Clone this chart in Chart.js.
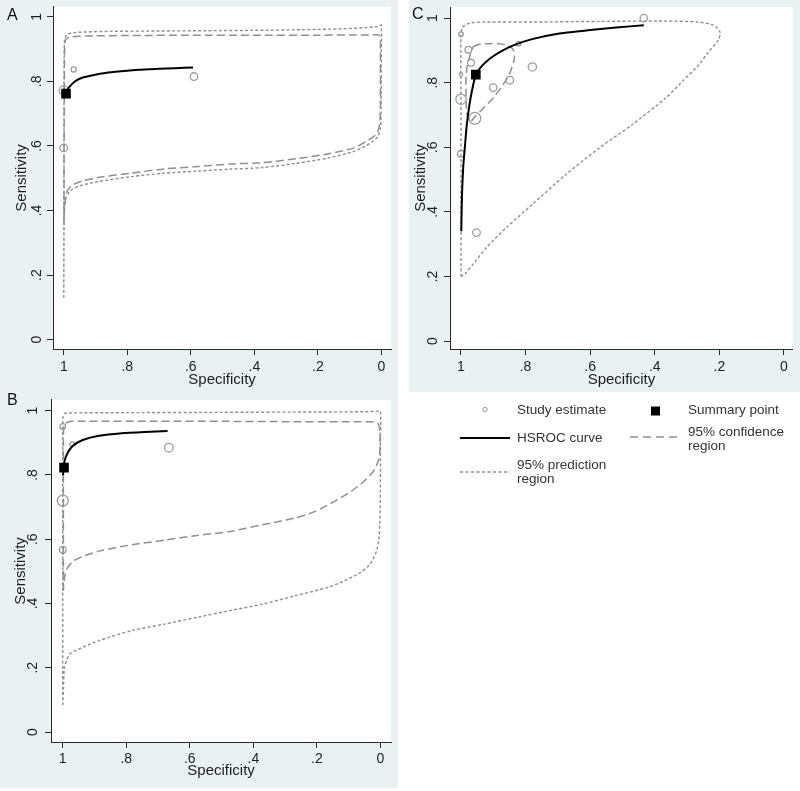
<!DOCTYPE html>
<html><head><meta charset="utf-8">
<script src="https://cdn.jsdelivr.net/npm/chart.js@4.4.1/dist/chart.umd.min.js"></script>
<style>
html,body{margin:0;padding:0;background:#fff;}
body{width:800px;height:791px;position:relative;overflow:hidden;font-family:"Liberation Sans",Arial,sans-serif;color:#222;}
canvas{position:absolute;}
.lbl{position:absolute;font-size:16px;line-height:16px;color:#111;z-index:3;}
.leg{position:absolute;font-size:13.5px;line-height:14px;color:#333;white-space:nowrap;}
svg{position:absolute;left:0;top:0;}
</style></head><body>
<canvas id="cA" width="398" height="393" style="left:0;top:0"></canvas>
<canvas id="cB" width="398" height="395" style="left:0;top:393px"></canvas>
<canvas id="cC" width="391" height="392" style="left:409px;top:0"></canvas>
<div class="lbl" style="left:7px;top:7px">A</div>
<div class="lbl" style="left:7px;top:392px">B</div>
<div class="lbl" style="left:412px;top:6px">C</div>

<svg width="800" height="791">
  <circle cx="485" cy="409.5" r="2.2" fill="none" stroke="#999" stroke-width="1"/>
  <rect x="651" y="406.5" width="9" height="9" fill="#000"/>
  <line x1="460" y1="438" x2="510" y2="438" stroke="#000" stroke-width="2"/>
  <line x1="630" y1="437" x2="679" y2="437" stroke="#8f8f8f" stroke-width="1.5" stroke-dasharray="8,5"/>
  <line x1="460" y1="472" x2="510" y2="472" stroke="#8f8f8f" stroke-width="1.4" stroke-dasharray="3,2.5"/>
</svg>
<div class="leg" style="left:517px;top:403px">Study estimate</div>
<div class="leg" style="left:688px;top:403px">Summary point</div>
<div class="leg" style="left:517px;top:431px">HSROC curve</div>
<div class="leg" style="left:688px;top:425px">95% confidence<br>region</div>
<div class="leg" style="left:517px;top:458px">95% prediction<br>region</div>

<script>
// ---------- shared axis data ----------
const tickValues = [0, 0.2, 0.4, 0.6, 0.8, 1];
const tickLabels = ['0', '.2', '.4', '.6', '.8', '1'];
const axisTitleX = 'Specificity';
const axisTitleY = 'Sensitivity';

// ---------- Panel A ----------
const aStudySpec = [1.0, 0.969, 0.59, 1.0];
const aStudySens = [0.772, 0.837, 0.815, 0.594];
const aStudyWeight = [8, 2.4, 5.3, 5.3];
const aSummarySpec = [0.993];
const aSummarySens = [0.762];
const aCurveSpec = [0.996, 0.99, 0.976, 0.96, 0.94, 0.905, 0.868, 0.82, 0.765, 0.70, 0.65, 0.593];
const aCurveSens = [0.748, 0.772, 0.790, 0.803, 0.812, 0.820, 0.826, 0.831, 0.836, 0.839, 0.841, 0.843];
const aConfSpec = [0.9995, 0.999, 0.998, 0.997, 0.995, 0.99, 0.975, 0.95, 0.90, 0.80, 0.60, 0.40, 0.20, 0.08, 0.03, 0.01, 0.004, 0.003, 0.003, 0.004, 0.008, 0.015, 0.03, 0.046, 0.086, 0.17, 0.27, 0.375, 0.478, 0.58, 0.682, 0.787, 0.889, 0.94, 0.975, 0.991, 0.997, 0.999, 0.9995];
const aConfSens = [0.36, 0.60, 0.85, 0.915, 0.928, 0.934, 0.938, 0.940, 0.941, 0.942, 0.943, 0.943, 0.943, 0.944, 0.944, 0.944, 0.94, 0.90, 0.75, 0.68, 0.655, 0.637, 0.625, 0.615, 0.594, 0.575, 0.56, 0.548, 0.544, 0.536, 0.529, 0.516, 0.503, 0.492, 0.477, 0.457, 0.41, 0.38, 0.36];
const aPredSpec = [1.0, 0.9995, 0.999, 0.998, 0.995, 0.99, 0.97, 0.93, 0.85, 0.70, 0.55, 0.40, 0.25, 0.12, 0.06, 0.02, 0.005, 0.0, 0.0, 0.001, 0.003, 0.012, 0.03, 0.05, 0.09, 0.17, 0.27, 0.375, 0.48, 0.58, 0.69, 0.787, 0.889, 0.951, 0.981, 0.996, 0.999, 1.0];
const aPredSens = [0.13, 0.5, 0.85, 0.925, 0.938, 0.945, 0.951, 0.953, 0.955, 0.956, 0.957, 0.958, 0.96, 0.963, 0.966, 0.969, 0.972, 0.975, 0.9, 0.72, 0.655, 0.628, 0.612, 0.6, 0.582, 0.562, 0.546, 0.533, 0.528, 0.522, 0.515, 0.505, 0.49, 0.476, 0.46, 0.43, 0.36, 0.13];

// ---------- Panel B ----------
const bStudySpec = [1.0, 0.97, 0.666, 1.0, 1.0];
const bStudySens = [0.951, 0.896, 0.885, 0.72, 0.567];
const bStudyWeight = [2.8, 2, 6.8, 11, 4.3];
const bSummarySpec = [0.996];
const bSummarySens = [0.823];
const bCurveSpec = [0.999, 0.997, 0.994, 0.984, 0.968, 0.937, 0.886, 0.814, 0.742, 0.67];
const bCurveSens = [0.80, 0.824, 0.845, 0.870, 0.891, 0.909, 0.922, 0.930, 0.934, 0.937];
const bConfSpec = [0.998, 0.998, 0.998, 0.997, 0.993, 0.985, 0.97, 0.90, 0.70, 0.50, 0.30, 0.12, 0.06, 0.043, 0.02, 0.01, 0.004, 0.002, 0.001, 0.002, 0.006, 0.012, 0.023, 0.053, 0.094, 0.146, 0.207, 0.269, 0.372, 0.474, 0.577, 0.68, 0.782, 0.885, 0.936, 0.967, 0.988, 0.996, 0.998];
const bConfSens = [0.44, 0.70, 0.90, 0.945, 0.958, 0.964, 0.967, 0.967, 0.967, 0.967, 0.966, 0.966, 0.966, 0.966, 0.965, 0.962, 0.953, 0.935, 0.90, 0.87, 0.847, 0.83, 0.81, 0.779, 0.748, 0.717, 0.686, 0.666, 0.645, 0.624, 0.612, 0.597, 0.583, 0.563, 0.547, 0.532, 0.506, 0.47, 0.44];
const bPredSpec = [1.0, 1.0, 1.0, 0.999, 0.995, 0.98, 0.8, 0.5, 0.2, 0.05, 0.01, 0.0, 0.0, 0.0, 0.001, 0.002, 0.005, 0.012, 0.033, 0.064, 0.115, 0.166, 0.269, 0.372, 0.474, 0.577, 0.68, 0.782, 0.885, 0.936, 0.977, 0.988, 0.995, 0.998, 1.0];
const bPredSens = [0.084, 0.5, 0.9, 0.98, 0.991, 0.993, 0.994, 0.995, 0.996, 0.997, 0.998, 0.999, 0.9, 0.75, 0.69, 0.645, 0.60, 0.563, 0.522, 0.496, 0.47, 0.45, 0.424, 0.398, 0.378, 0.357, 0.336, 0.316, 0.285, 0.264, 0.244, 0.222, 0.20, 0.131, 0.084];

// ---------- Panel C ----------
const cStudySpec = [0.434, 1.0, 0.977, 0.822, 0.969, 1.0, 0.779, 0.849, 0.90, 1.0, 0.957, 1.0, 0.952];
const cStudySens = [1.0, 0.95, 0.902, 0.921, 0.862, 0.826, 0.849, 0.808, 0.785, 0.749, 0.69, 0.58, 0.336];
const cStudyWeight = [5, 2, 4.3, 2, 4.3, 1.1, 6.3, 5.3, 5.3, 9.8, 12.7, 4.3, 5.3];
const cSummarySpec = [0.954];
const cSummarySens = [0.825];
const cCurveSpec = [0.999, 0.997, 0.993, 0.988, 0.982, 0.974, 0.966, 0.954, 0.935, 0.91, 0.88, 0.84, 0.78, 0.70, 0.60, 0.52, 0.434];
const cCurveSens = [0.34, 0.45, 0.54, 0.60, 0.67, 0.73, 0.775, 0.825, 0.852, 0.875, 0.895, 0.915, 0.935, 0.952, 0.963, 0.971, 0.978];
const cConfSpec = [0.962, 0.94, 0.911, 0.88, 0.859, 0.84, 0.834, 0.837, 0.849, 0.87, 0.901, 0.931, 0.957, 0.972, 0.979, 0.983, 0.985, 0.984, 0.981, 0.972, 0.962];
const cConfSens = [0.912, 0.92, 0.921, 0.921, 0.916, 0.905, 0.885, 0.865, 0.829, 0.793, 0.752, 0.721, 0.695, 0.678, 0.69, 0.72, 0.793, 0.82, 0.85, 0.885, 0.912];
const cPredSpec = [1.0, 1.0, 1.0, 1.0, 0.995, 0.972, 0.921, 0.778, 0.572, 0.367, 0.265, 0.218, 0.198, 0.203, 0.234, 0.265, 0.316, 0.367, 0.47, 0.572, 0.675, 0.778, 0.859, 0.921, 0.962, 0.988, 1.0];
const cPredSens = [0.20, 0.434, 0.741, 0.947, 0.972, 0.985, 0.988, 0.988, 0.99, 0.991, 0.988, 0.978, 0.957, 0.932, 0.895, 0.854, 0.803, 0.752, 0.67, 0.598, 0.516, 0.424, 0.352, 0.29, 0.239, 0.208, 0.20];

// ---------- rendering ----------
const PANEL_BG = 'rgb(233,241,243)';
const AXIS = '#2a2a2a';
const TXT = '#1e1e1e';
const REGION = '#8f8f8f';
const STUDY = '#9c9c9c';
Chart.defaults.font.family = '"Liberation Sans", Arial, sans-serif';

function pts(xs, ys) { return xs.map((x, i) => ({ x: x, y: ys[i] })); }
function radii(ws) { return ws.map(w => 1.65 * Math.sqrt(w)); }

const bgPlugin = {
  id: 'panelBg',
  beforeDraw(chart) {
    const c = chart.ctx, a = chart.chartArea;
    c.save();
    c.fillStyle = PANEL_BG;
    c.fillRect(0, 0, chart.width, chart.height);
    c.fillStyle = '#fff';
    c.fillRect(a.left, a.top, a.right - a.left, a.bottom - a.top);
    c.restore();
  }
};

function makePanel(id, g, d) {
  new Chart(document.getElementById(id), {
    type: 'scatter',
    plugins: [bgPlugin],
    data: {
      datasets: [
        { data: pts(d.sumSpec, d.sumSens), pointStyle: 'rect', pointRadius: 6.8, backgroundColor: '#000', borderColor: '#000', borderWidth: 0 },
        { data: pts(d.curveSpec, d.curveSens), showLine: true, pointRadius: 0, borderColor: '#000', borderWidth: 2, tension: 0.2 },
        { data: pts(d.studySpec, d.studySens), pointStyle: 'circle', pointRadius: radii(d.studyWeight), backgroundColor: 'rgba(0,0,0,0)', borderColor: STUDY, borderWidth: 1.3 },
        { data: pts(d.confSpec, d.confSens), showLine: true, pointRadius: 0, borderColor: REGION, borderWidth: 1.5, borderDash: [8, 4], tension: 0.25 },
        { data: pts(d.predSpec, d.predSens), showLine: true, pointRadius: 0, borderColor: REGION, borderWidth: 1.4, borderDash: [3, 2.2], tension: 0.25 }
      ]
    },
    options: {
      responsive: false, animation: false, events: [],
      layout: { padding: { left: 0, top: g.top, right: g.W - g.right, bottom: 0 } },
      plugins: { legend: { display: false }, tooltip: { enabled: false } },
      scales: {
        x: {
          type: 'linear', reverse: true, min: g.xMin, max: g.xMax,
          afterBuildTicks: s => { s.ticks = tickValues.map(v => ({ value: v })); },
          afterFit: s => { s.height = g.H - g.bottom; s.paddingLeft = 0; s.paddingRight = 0; },
          grid: { display: true, drawOnChartArea: false, drawTicks: true, tickLength: 6, color: AXIS, lineWidth: 1 },
          border: { display: true, color: AXIS, width: 1 },
          ticks: { padding: g.xTickPad, color: TXT, font: { size: 14 }, minRotation: 0, maxRotation: 0, autoSkip: false, callback: (v, i) => tickLabels[i] },
          title: { display: true, text: axisTitleX, color: TXT, font: { size: 15, lineHeight: 1 }, padding: { top: 0, bottom: g.xTitlePad } }
        },
        y: {
          type: 'linear', min: g.yMin, max: g.yMax,
          afterBuildTicks: s => { s.ticks = tickValues.map(v => ({ value: v })); },
          afterFit: s => { s.width = g.left; s.paddingTop = 0; s.paddingBottom = 0; },
          grid: { display: true, drawOnChartArea: false, drawTicks: true, tickLength: 6, color: AXIS, lineWidth: 1 },
          border: { display: true, color: AXIS, width: 1 },
          ticks: { padding: g.yTickPad, color: TXT, font: { size: 14 }, minRotation: 90, maxRotation: 90, crossAlign: 'center', autoSkip: false, callback: (v, i) => tickLabels[i] },
          title: { display: true, text: axisTitleY, color: TXT, font: { size: 15, lineHeight: 1 }, padding: { top: g.yTitlePad, bottom: 0 } }
        }
      }
    }
  });
}

makePanel('cA',
  { W: 398, H: 393, left: 53, right: 398, top: 5, bottom: 349, xMin: -0.031, xMax: 1.034, yMin: -0.029, yMax: 1.031, xTickPad: 4, yTickPad: 4, xTitlePad: 6, yTitlePad: 14.7 },
  { studySpec: aStudySpec, studySens: aStudySens, studyWeight: aStudyWeight, sumSpec: aSummarySpec, sumSens: aSummarySens,
    curveSpec: aCurveSpec, curveSens: aCurveSens, confSpec: aConfSpec, confSens: aConfSens, predSpec: aPredSpec, predSens: aPredSens });

makePanel('cB',
  { W: 398, H: 395, left: 51, right: 398, top: 4, bottom: 349, xMin: -0.034, xMax: 1.037, yMin: -0.031, yMax: 1.034, xTickPad: 2.5, yTickPad: 6, xTitlePad: 9.3, yTitlePad: 13 },
  { studySpec: bStudySpec, studySens: bStudySens, studyWeight: bStudyWeight, sumSpec: bSummarySpec, sumSens: bSummarySens,
    curveSpec: bCurveSpec, curveSens: bCurveSens, confSpec: bConfSpec, confSens: bConfSens, predSpec: bPredSpec, predSens: bPredSens });

makePanel('cC',
  { W: 391, H: 392, left: 41, right: 386, top: 5, bottom: 349, xMin: -0.0275, xMax: 1.034, yMin: -0.0245, yMax: 1.034, xTickPad: 4, yTickPad: 5, xTitlePad: 5, yTitlePad: 4 },
  { studySpec: cStudySpec, studySens: cStudySens, studyWeight: cStudyWeight, sumSpec: cSummarySpec, sumSens: cSummarySens,
    curveSpec: cCurveSpec, curveSens: cCurveSens, confSpec: cConfSpec, confSens: cConfSens, predSpec: cPredSpec, predSens: cPredSens });
</script>
</body></html>
